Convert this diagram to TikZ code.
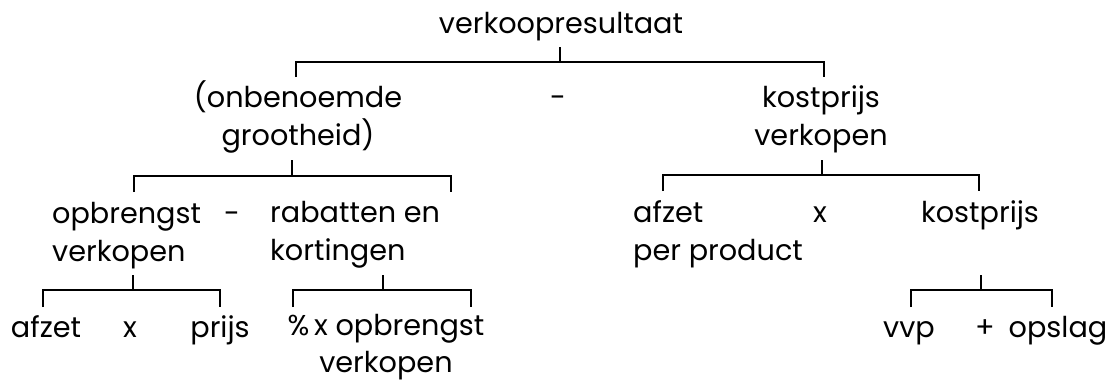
\documentclass[tikz,border=0pt]{standalone}
\usepackage{fontspec}
\setmainfont{Poppins}
\begin{document}
\begin{tikzpicture}[x=1pt,y=-1pt,
  lbl/.style={inner sep=0pt, anchor=base, font=\fontsize{28.7}{38.5}\selectfont},
  lblc/.style={lbl, align=center},
  lbll/.style={lbl, align=left, anchor=base west},
  conn/.style={line width=1.6pt}]
\useasboundingbox (0,0) rectangle (1107,381);
% texts (multi-line nodes: base = baseline of last line)
\node[lbl] (top) at (561,33) {verkoopresultaat};
\node[lblc] (onb) at (298,145.5) {(onbenoemde\\grootheid)};
\node[lbl] (min1) at (558,107) {-};
\node[lblc] (kv) at (821,145.5) {kostprijs\\verkopen};
\node[lbll] (ov) at (52,261.5) {opbrengst\\verkopen};
\node[lbl] (min2) at (232,223) {-};
\node[lbll] (rk) at (270,260.5) {rabatten en\\kortingen};
\node[lbll] (app) at (633,260.5) {afzet\\per product};
\node[lbl] (x1) at (820,222) {x};
\node[lbl] (kp) at (980,222) {kostprijs};
\node[lbl] (afz) at (46,337) {afzet};
\node[lbl] (x2) at (130,337) {x};
\node[lbl] (prijs) at (220,337) {prijs};
\node[lbl, align=center, font=\fontsize{28.7}{37}\selectfont] (pct) at (386,372.5) {\%\,x opbrengst\\verkopen};
\node[lbl] (vvp) at (909,337) {vvp};
\node[lbl] (plus) at (985,337) {+};
\node[lbl] (opsl) at (1058,337) {opslag};
% bracket coordinates
\coordinate (a0) at (560,47);  \coordinate (aH) at (0,62);
\coordinate (aL) at (296,77);  \coordinate (aR) at (824,77);
\coordinate (b0) at (292,160); \coordinate (bH) at (0,176);
\coordinate (bL) at (134,192); \coordinate (bR) at (451,192);
\coordinate (c0) at (822,160); \coordinate (cH) at (0,175);
\coordinate (cL) at (663,191); \coordinate (cR) at (979,191);
\coordinate (d0) at (133,275); \coordinate (dH) at (0,290);
\coordinate (dL) at (43,307);  \coordinate (dR) at (220,307);
\coordinate (e0) at (383,275); \coordinate (eH) at (0,290);
\coordinate (eL) at (293,307); \coordinate (eR) at (471,307);
\coordinate (f0) at (981,275); \coordinate (fH) at (0,290);
\coordinate (fL) at (911,307); \coordinate (fR) at (1052,307);
\foreach \k in {a,b,c,d,e,f}{
  \draw[conn] (\k L) -- (\k L |- \k H) -- (\k R |- \k H) -- (\k R);
  \draw[conn] (\k 0) -- (\k 0 |- \k H);
}
\end{tikzpicture}
\end{document}
